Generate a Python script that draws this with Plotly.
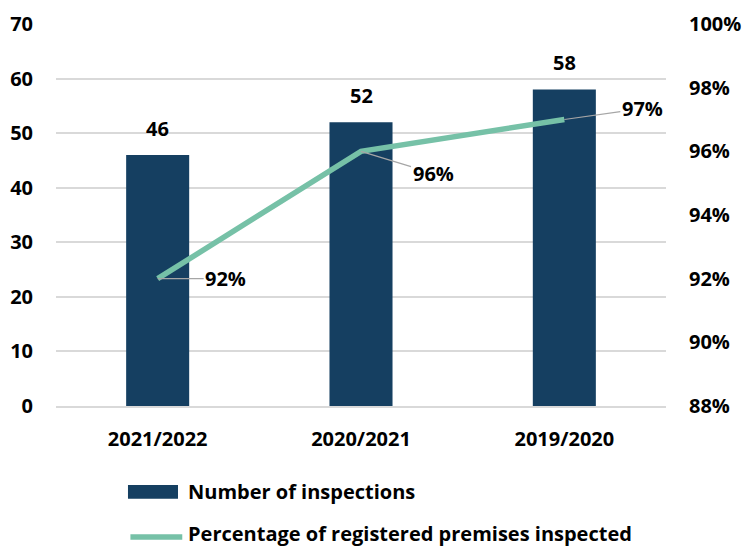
import plotly.graph_objects as go

years = ["2021/2022", "2020/2021", "2019/2020"]
inspections = [46, 52, 58]
pct_inspected = [0.92, 0.96, 0.97]
left_ticks = [0, 10, 20, 30, 40, 50, 60, 70]
right_ticks = [0.88, 0.90, 0.92, 0.94, 0.96, 0.98, 1.00]

BAR = "#153F61"
LINE = "#76C1A7"
GRID = "#D9D9D9"
FONT = dict(family="Open Sans, sans-serif", size=20, color="#000000", weight="bold")

fig = go.Figure()
fig.add_trace(go.Bar(
    x=years, y=inspections, name="Number of inspections",
    marker=dict(color=BAR, line=dict(width=0)), width=0.31,
    yaxis="y", showlegend=False,
))
fig.add_trace(go.Scatter(
    x=years, y=pct_inspected, name="Percentage of registered premises inspected",
    mode="lines", line=dict(color=LINE, width=5.5), yaxis="y2", showlegend=False,
))

annotations = []
# value labels above bars
for yr, v in zip(years, inspections):
    annotations.append(dict(x=yr, y=v, xref="x", yref="y", text=str(v), showarrow=False,
                            yanchor="bottom", yshift=11, font=FONT))
# percentage labels with leader lines
offsets = [(68, 0), (72, 22), (78, -11)]
for yr, p, (ax, ay) in zip(years, pct_inspected, offsets):
    annotations.append(dict(x=yr, y=p, xref="x", yref="y2", text=f"{round(p*100)}%",
                            showarrow=True, arrowhead=0, arrowwidth=1.2, arrowcolor="#A6A6A6",
                            ax=ax, ay=ay, xanchor="center", font=FONT, standoff=0))

# legend drawn below the plot
annotations.append(dict(x=0.213, y=-0.225, xref="paper", yref="paper", text="Number of inspections",
                        showarrow=False, xanchor="left", yanchor="middle", font=FONT))
annotations.append(dict(x=0.213, y=-0.333, xref="paper", yref="paper",
                        text="Percentage of registered premises inspected",
                        showarrow=False, xanchor="left", yanchor="middle", font=FONT))
shapes = [
    dict(type="rect", xref="paper", yref="paper", x0=0.118, x1=0.20, y0=-0.243, y1=-0.207,
         fillcolor=BAR, line=dict(width=0)),
    dict(type="line", xref="paper", yref="paper", x0=0.122, x1=0.207, y0=-0.343, y1=-0.343,
         line=dict(color=LINE, width=5.5)),
]

fig.update_layout(
    width=746, height=546,
    margin=dict(l=56, r=80, t=24, b=140),
    paper_bgcolor="white", plot_bgcolor="white",
    font=FONT, bargap=0.69,
    xaxis=dict(showgrid=False, showline=True, linecolor=GRID, linewidth=1.5,
               tickfont=FONT, ticks="", ticklabelstandoff=14, automargin=False),
    yaxis=dict(range=[0, 70], tickvals=left_ticks, showgrid=True, gridcolor=GRID, gridwidth=2,
               zeroline=False, showline=False, tickfont=FONT, ticklabelstandoff=22,
               automargin=False),
    yaxis2=dict(range=[0.88, 1.0], tickvals=right_ticks, tickformat=".0%", overlaying="y",
                side="right", showgrid=False, zeroline=False, showline=False, tickfont=FONT,
                ticklabelstandoff=22, automargin=False),
    annotations=annotations, shapes=shapes,
)

fig.write_html("out.html")
